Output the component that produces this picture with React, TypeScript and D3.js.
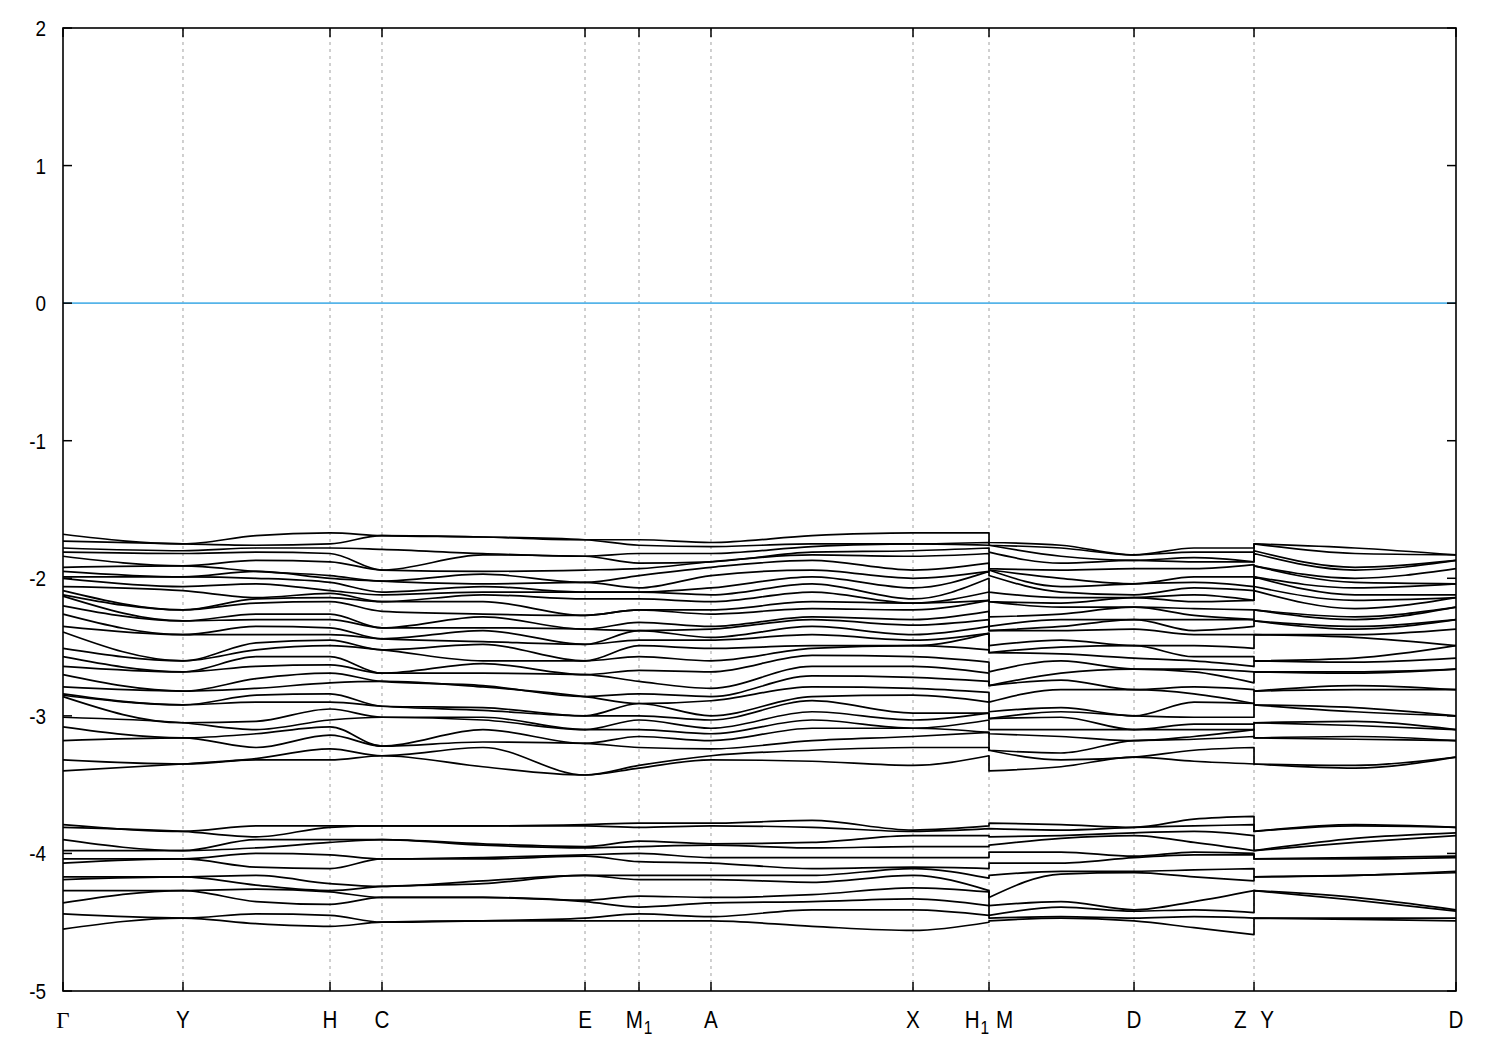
import React from 'react';
import * as d3 from 'd3';

const W = 1500;
const H = 1050;
const PL = 63, PR = 1456, PT = 28, PB = 991;

// path coordinate (k-distance) of each node where band energies are read
const kNodes = [0, 0.4307, 0.6928, 0.9584, 1.145, 1.5075, 1.8737, 2.0675, 2.3259, 2.6885, 3.051, 3.3238, 3.3238, 3.5822, 3.8443, 4.0596, 4.275, 4.275, 4.6375, 5.0];
// node index ranges of the three continuous path pieces
const pieces = [[0, 11], [12, 16], [17, 19]];

const tickK = [0, 0.4307, 0.9584, 1.145, 1.8737, 2.0675, 2.3259, 3.051, 3.3238, 3.8443, 4.275, 5.0];
const tickLabels = ['Γ', 'Y', 'H', 'C', 'E', 'M1', 'A', 'X', 'H1|M', 'D', 'Z|Y', 'D'];
const yTicks = [2, 1, 0, -1, -2, -3, -4, -5];

// upper valence group (30 bands), energies at each node
const uG = [-1.68,-1.73,-1.78,-1.81,-1.84,-1.92,-1.95,-1.99,-2.00,-2.06,-2.09,-2.12,-2.13,-2.20,-2.26,-2.35,-2.39,-2.51,-2.57,-2.64,-2.70,-2.79,-2.84,-2.85,-2.86,-3.01,-3.08,-3.18,-3.32,-3.40];
const uY = [-1.75,-1.75,-1.80,-1.82,-1.91,-1.91,-1.99,-1.99,-2.06,-2.09,-2.23,-2.23,-2.31,-2.31,-2.41,-2.41,-2.60,-2.60,-2.68,-2.68,-2.82,-2.82,-2.92,-2.92,-3.05,-3.05,-3.16,-3.16,-3.35,-3.35];
const uYH = [-1.69,-1.76,-1.78,-1.81,-1.87,-1.95,-1.95,-2.00,-2.04,-2.14,-2.15,-2.18,-2.26,-2.30,-2.35,-2.41,-2.47,-2.52,-2.57,-2.64,-2.73,-2.80,-2.85,-2.90,-3.04,-3.10,-3.13,-3.23,-3.31,-3.32];
const uH = [-1.67,-1.75,-1.78,-1.82,-1.88,-1.98,-2.00,-2.03,-2.09,-2.11,-2.14,-2.17,-2.26,-2.30,-2.36,-2.41,-2.45,-2.49,-2.57,-2.63,-2.69,-2.76,-2.84,-2.90,-2.95,-3.03,-3.08,-3.14,-3.24,-3.32];
const uC = [-1.69,-1.69,-1.79,-1.94,-1.94,-2.02,-2.02,-2.10,-2.12,-2.17,-2.17,-2.24,-2.36,-2.36,-2.44,-2.44,-2.52,-2.52,-2.69,-2.69,-2.75,-2.75,-2.93,-2.93,-3.01,-3.01,-3.22,-3.22,-3.29,-3.29];
const uCE = [-1.70,-1.70,-1.82,-1.83,-1.95,-1.97,-2.04,-2.06,-2.10,-2.12,-2.17,-2.26,-2.28,-2.36,-2.38,-2.46,-2.48,-2.60,-2.62,-2.69,-2.78,-2.79,-2.94,-2.96,-3.01,-3.03,-3.10,-3.19,-3.23,-3.37];
const uE = [-1.72,-1.72,-1.84,-1.84,-1.94,-2.03,-2.03,-2.10,-2.10,-2.15,-2.27,-2.27,-2.37,-2.37,-2.48,-2.48,-2.60,-2.60,-2.70,-2.70,-2.86,-2.86,-3.00,-3.00,-3.10,-3.10,-3.20,-3.20,-3.43,-3.43];
const uM1 = [-1.72,-1.76,-1.82,-1.89,-1.93,-1.98,-2.07,-2.10,-2.10,-2.15,-2.23,-2.23,-2.32,-2.38,-2.38,-2.45,-2.49,-2.57,-2.67,-2.75,-2.84,-2.91,-2.91,-3.00,-3.03,-3.10,-3.15,-3.23,-3.36,-3.38];
const uA = [-1.74,-1.77,-1.82,-1.88,-1.88,-1.92,-1.98,-2.07,-2.12,-2.17,-2.23,-2.26,-2.35,-2.37,-2.43,-2.45,-2.51,-2.60,-2.68,-2.80,-2.86,-2.89,-3.00,-3.03,-3.09,-3.13,-3.18,-3.24,-3.29,-3.32];
const uAX = [-1.69,-1.75,-1.77,-1.81,-1.83,-1.87,-1.94,-1.99,-2.04,-2.10,-2.17,-2.22,-2.28,-2.30,-2.35,-2.41,-2.49,-2.51,-2.56,-2.64,-2.71,-2.79,-2.86,-2.89,-2.97,-3.03,-3.09,-3.18,-3.25,-3.33];
const uX = [-1.67,-1.75,-1.75,-1.80,-1.84,-1.94,-2.00,-2.07,-2.15,-2.18,-2.18,-2.23,-2.30,-2.34,-2.41,-2.45,-2.49,-2.49,-2.57,-2.64,-2.72,-2.80,-2.85,-2.98,-3.03,-3.09,-3.09,-3.15,-3.23,-3.36];
const uH1 = [-1.67,-1.74,-1.76,-1.78,-1.82,-1.89,-1.95,-1.95,-2.00,-2.10,-2.16,-2.16,-2.24,-2.30,-2.35,-2.40,-2.40,-2.52,-2.61,-2.69,-2.75,-2.83,-2.90,-2.98,-2.98,-3.03,-3.12,-3.12,-3.23,-3.29];
const uM = [-1.74,-1.76,-1.76,-1.81,-1.93,-1.94,-1.94,-1.98,-2.10,-2.17,-2.17,-2.28,-2.35,-2.38,-2.38,-2.49,-2.54,-2.54,-2.68,-2.78,-2.78,-2.90,-2.97,-3.02,-3.02,-3.10,-3.13,-3.25,-3.25,-3.40];
const uMD = [-1.76,-1.78,-1.84,-1.89,-1.94,-2.00,-2.06,-2.10,-2.14,-2.18,-2.21,-2.26,-2.30,-2.35,-2.38,-2.45,-2.50,-2.55,-2.60,-2.69,-2.74,-2.81,-2.94,-2.97,-3.01,-3.10,-3.15,-3.27,-3.32,-3.37];
const uD = [-1.83,-1.83,-1.87,-1.87,-1.93,-2.04,-2.04,-2.12,-2.14,-2.14,-2.21,-2.21,-2.30,-2.30,-2.37,-2.49,-2.49,-2.58,-2.66,-2.66,-2.81,-2.81,-3.00,-3.00,-3.10,-3.10,-3.18,-3.18,-3.30,-3.30];
const uDZ = [-1.78,-1.81,-1.85,-1.88,-1.93,-1.99,-2.03,-2.07,-2.12,-2.17,-2.22,-2.27,-2.30,-2.38,-2.41,-2.49,-2.57,-2.60,-2.66,-2.68,-2.79,-2.84,-2.90,-3.01,-3.06,-3.10,-3.15,-3.17,-3.25,-3.33];
const uZ = [-1.78,-1.81,-1.88,-1.88,-1.90,-1.99,-2.06,-2.09,-2.16,-2.16,-2.23,-2.30,-2.30,-2.35,-2.41,-2.51,-2.57,-2.64,-2.68,-2.76,-2.81,-2.91,-2.91,-3.01,-3.06,-3.10,-3.10,-3.15,-3.23,-3.35];
const uYD = [-1.78,-1.82,-1.92,-1.94,-2.00,-2.03,-2.07,-2.12,-2.16,-2.22,-2.28,-2.30,-2.35,-2.37,-2.41,-2.43,-2.58,-2.61,-2.68,-2.69,-2.78,-2.81,-2.94,-2.97,-3.04,-3.07,-3.15,-3.17,-3.36,-3.38];

// lower valence group (12 bands)
const lG = [-3.79,-3.81,-3.90,-3.98,-4.04,-4.07,-4.17,-4.19,-4.27,-4.36,-4.44,-4.55];
const lY = [-3.84,-3.84,-3.98,-3.98,-4.04,-4.04,-4.17,-4.17,-4.27,-4.27,-4.47,-4.47];
const lYH = [-3.80,-3.88,-3.90,-3.96,-4.00,-4.10,-4.16,-4.23,-4.26,-4.35,-4.44,-4.51];
const lH = [-3.80,-3.81,-3.90,-3.92,-4.01,-4.11,-4.22,-4.27,-4.28,-4.37,-4.45,-4.53];
const lC = [-3.80,-3.80,-3.90,-3.90,-4.04,-4.04,-4.24,-4.24,-4.32,-4.32,-4.50,-4.50];
const lCE = [-3.80,-3.80,-3.93,-3.94,-4.03,-4.04,-4.20,-4.22,-4.32,-4.32,-4.49,-4.49];
const lE = [-3.79,-3.80,-3.95,-3.96,-4.01,-4.02,-4.16,-4.16,-4.34,-4.35,-4.47,-4.49];
const lM1 = [-3.78,-3.81,-3.91,-3.95,-4.00,-4.06,-4.16,-4.19,-4.31,-4.39,-4.44,-4.49];
const lA = [-3.78,-3.80,-3.93,-3.94,-4.03,-4.07,-4.16,-4.19,-4.32,-4.36,-4.46,-4.49];
const lAX = [-3.76,-3.81,-3.92,-3.96,-4.03,-4.11,-4.16,-4.21,-4.30,-4.35,-4.41,-4.53];
const lX = [-3.83,-3.84,-3.87,-3.95,-4.03,-4.10,-4.11,-4.16,-4.25,-4.33,-4.41,-4.56];
const lH1 = [-3.80,-3.82,-3.87,-3.95,-4.03,-4.11,-4.18,-4.27,-4.28,-4.38,-4.45,-4.50];
const lM = [-3.78,-3.82,-3.88,-3.94,-3.99,-4.07,-4.16,-4.32,-4.38,-4.45,-4.47,-4.49];
const lMD = [-3.79,-3.83,-3.87,-3.89,-3.99,-4.07,-4.13,-4.15,-4.35,-4.39,-4.46,-4.47];
const lD = [-3.81,-3.81,-3.85,-3.87,-4.02,-4.03,-4.13,-4.14,-4.41,-4.42,-4.47,-4.49];
const lDZ = [-3.75,-3.80,-3.84,-3.92,-3.99,-4.01,-4.12,-4.17,-4.35,-4.41,-4.46,-4.54];
const lZ = [-3.73,-3.79,-3.87,-3.98,-4.00,-4.01,-4.11,-4.20,-4.27,-4.43,-4.47,-4.59];
const lYD = [-3.79,-3.80,-3.89,-3.92,-4.03,-4.04,-4.16,-4.16,-4.32,-4.34,-4.47,-4.48];

const upperNodes = [uG, uY, uYH, uH, uC, uCE, uE, uM1, uA, uAX, uX, uH1, uM, uMD, uD, uDZ, uZ, uY, uYD, uD];
const lowerNodes = [lG, lY, lYH, lH, lC, lCE, lE, lM1, lA, lAX, lX, lH1, lM, lMD, lD, lDZ, lZ, lY, lYD, lD];

const FONT = "'Liberation Sans', Arial, sans-serif";
const NARROW = 0.86;

function Label({ text, x, y }: { text: string; x: number; y: number }) {
  const fs = 24;
  const sub = 18;
  const tf = `translate(${x},${y}) scale(${NARROW},1)`;
  if (text === 'Γ') {
    return <text transform={`translate(${x},${y})`} textAnchor="middle" fontSize={23} fontFamily="'Liberation Serif', 'DejaVu Serif', serif">Γ</text>;
  }
  if (text === 'M1') {
    return (
      <text transform={tf} textAnchor="middle" fontSize={fs} fontFamily={FONT}>
        <tspan>M</tspan>
        <tspan fontSize={sub} dy={6} dx={1}>1</tspan>
      </text>
    );
  }
  if (text === 'H1|M') {
    return (
      <text transform={tf} textAnchor="middle" fontSize={fs} fontFamily={FONT}>
        <tspan>H</tspan>
        <tspan fontSize={sub} dy={6} dx={1}>1</tspan>
        <tspan dy={-6} dx={8}>M</tspan>
      </text>
    );
  }
  if (text === 'Z|Y') {
    return (
      <text transform={tf} textAnchor="middle" fontSize={fs} fontFamily={FONT}>
        <tspan>Z</tspan>
        <tspan dx={16}>Y</tspan>
      </text>
    );
  }
  return <text transform={tf} textAnchor="middle" fontSize={fs} fontFamily={FONT}>{text}</text>;
}

export default function App() {
  const x = d3.scaleLinear().domain([0, 5]).range([PL, PR]);
  const y = d3.scaleLinear().domain([-5, 2]).range([PB, PT]);
  const line = d3
    .line<[number, number]>()
    .x((d) => x(d[0]))
    .y((d) => y(d[1]))
    .curve(d3.curveMonotoneX);

  const bandPath = (nodes: number[][], i: number) =>
    pieces
      .map(([a, b], p) => {
        const pts = d3.range(a, b + 1).map((j) => [kNodes[j], nodes[j][i]] as [number, number]);
        const s = line(pts) || '';
        return p === 0 ? s : 'L' + s.slice(1);
      })
      .join('');

  const nUpper = uG.length;
  const nLower = lG.length;

  return (
    <div>
      <style>{`body{margin:0;background:#fff}`}</style>
      <svg width={W} height={H} style={{ display: 'block' }}>
        <rect x={0} y={0} width={W} height={H} fill="#fff" />
        {/* vertical dashed lines at high-symmetry points */}
        {tickK.slice(1, -1).map((k, i) => (
          <line key={'g' + i} x1={x(k)} x2={x(k)} y1={PT} y2={PB} stroke="#a0a0a0" strokeWidth={1} strokeDasharray="3,4" />
        ))}
        {/* Fermi level */}
        <line x1={PL} x2={PR} y1={y(0)} y2={y(0)} stroke="#56b4e9" strokeWidth={1.6} />
        {/* bands */}
        <g fill="none" stroke="#000" strokeWidth={1.7} strokeLinejoin="round">
          {d3.range(nUpper).map((i) => (
            <path key={'u' + i} d={bandPath(upperNodes, i)} />
          ))}
          {d3.range(nLower).map((i) => (
            <path key={'l' + i} d={bandPath(lowerNodes, i)} />
          ))}
        </g>
        {/* frame */}
        <rect x={PL} y={PT} width={PR - PL} height={PB - PT} fill="none" stroke="#000" strokeWidth={1.6} />
        {/* y ticks */}
        {yTicks.map((t) => (
          <g key={'y' + t}>
            <line x1={PL} x2={PL + 9} y1={y(t)} y2={y(t)} stroke="#000" strokeWidth={1.5} />
            <line x1={PR} x2={PR - 9} y1={y(t)} y2={y(t)} stroke="#000" strokeWidth={1.5} />
            <text transform={`translate(46,${y(t) + 8}) scale(${NARROW},1)`} textAnchor="end" fontSize={22} fontFamily={FONT}>{String(t)}</text>
          </g>
        ))}
        {/* x ticks */}
        {tickK.map((k, i) => (
          <g key={'x' + i}>
            <line x1={x(k)} x2={x(k)} y1={PB} y2={PB - 9} stroke="#000" strokeWidth={1.5} />
            <line x1={x(k)} x2={x(k)} y1={PT} y2={PT + 9} stroke="#000" strokeWidth={1.5} />
            <Label text={tickLabels[i]} x={x(k)} y={1028} />
          </g>
        ))}
      </svg>
    </div>
  );
}
